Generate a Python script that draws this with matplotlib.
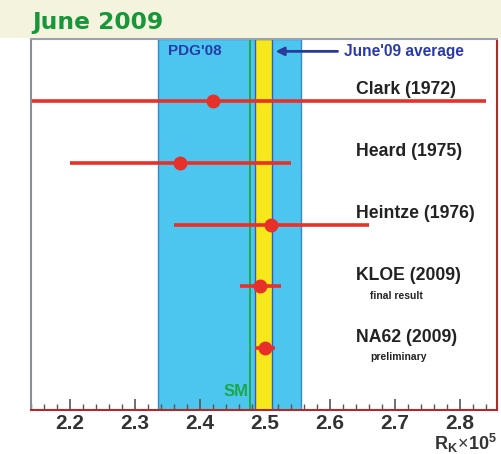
import matplotlib
matplotlib.use("Agg")
import matplotlib.pyplot as plt
from matplotlib.patches import Rectangle
from matplotlib.ticker import MultipleLocator, FixedLocator

plt.rcParams['font.family'] = ['Liberation Sans', 'DejaVu Sans']
plt.rcParams['mathtext.fontset'] = 'custom'
plt.rcParams['mathtext.rm'] = 'Liberation Sans'
plt.rcParams['mathtext.bf'] = 'Liberation Sans:bold'
plt.rcParams['mathtext.it'] = 'Liberation Sans:italic'

# Data
experiments = ["Clark (1972)", "Heard (1975)", "Heintze (1976)", "KLOE (2009)", "NA62 (2009)"]
notes = ["", "", "", "final result", "preliminary"]
values = [2.42, 2.37, 2.51, 2.493, 2.500]
errors = [0.42, 0.17, 0.15, 0.031, 0.016]
pdg_value, pdg_error = 2.445, 0.11
avg_value, avg_error = 2.498, 0.013
sm_value = 2.477
tick_values = [2.2, 2.3, 2.4, 2.5, 2.6, 2.7, 2.8]
tick_labels = ["2.2", "2.3", "2.4", "2.5", "2.6", "2.7", "2.8"]

W, H = 501, 454
fig = plt.figure(figsize=(W / 100, H / 100), dpi=100)
fig.patch.set_facecolor('white')
# beige header band
fig.patches.append(Rectangle((0, 1 - 38 / H), 1, 38 / H, transform=fig.transFigure,
                             facecolor='#f4f4de', edgecolor='none', zorder=0))
fig.text(32 / W, 1 - 22 / H, "June 2009", color='#17963a', fontsize=16.8,
         fontweight='bold', family='DejaVu Sans', va='center', ha='left')

ax = fig.add_axes([31 / W, 44 / H, 466 / W, 371 / H])
ax.set_xlim(2.14, 2.857)
ax.set_ylim(0, 6)

# PDG band
ax.axvspan(pdg_value - pdg_error, pdg_value + pdg_error, facecolor='#4cc6ee',
           edgecolor='#3a86cc', linewidth=1.0, zorder=1)
# average band
ax.axvspan(avg_value - avg_error, avg_value + avg_error, facecolor='#f7e81c',
           edgecolor='#3a5fb0', linewidth=1.0, zorder=2)
# SM line
ax.axvline(sm_value, color='#1aa84a', linewidth=1.3, zorder=3)

ypos = [5, 4, 3, 2, 1]
for v, e, y in zip(values, errors, ypos):
    ax.errorbar(v, y, xerr=e, fmt='o', color='#e8302a', ecolor='#e8302a',
                elinewidth=2.6, markersize=9, capsize=0, zorder=5, clip_on=True)

for name, note, y in zip(experiments, notes, ypos):
    ax.text(2.64, y + 0.18, name, fontsize=12.7, fontweight='bold', color='#222222',
            ha='left', va='center', zorder=6)
    if note:
        ax.text(2.662, y - 0.15, note, fontsize=7.5, fontweight='bold', color='#222222',
                ha='left', va='center', zorder=6)

ax.text(2.351, 5.8, "PDG'08", fontsize=11, fontweight='bold', color='#2a3aa8',
        ha='left', va='center', zorder=6)
ax.text(2.6215, 5.8, "June'09 average", fontsize=11.2, fontweight='bold', color='#2a3aa8',
        ha='left', va='center', zorder=6)
ax.annotate("", xy=(2.512, 5.8), xytext=(2.616, 5.8),
            arrowprops=dict(arrowstyle='-|>', color='#2a3a9a', lw=2, mutation_scale=12),
            zorder=6)
ax.text(2.475, 0.3, "SM", fontsize=12, fontweight='bold', color='#1aa84a',
        ha='right', va='center', zorder=6)

# spines
ax.spines['left'].set_color('#8a8e94')
ax.spines['top'].set_color('#9aa0b0')
ax.spines['bottom'].set_color('#b02a2a')
ax.spines['right'].set_color('#b02a2a')
for s in ax.spines.values():
    s.set_linewidth(1.5)
    s.set_zorder(7)

ax.xaxis.set_major_locator(FixedLocator(tick_values))
ax.set_xticklabels(tick_labels)
ax.xaxis.set_minor_locator(MultipleLocator(0.02))
ax.tick_params(axis='x', which='major', direction='in', length=8, width=1.2,
               color='#555555', labelsize=15, pad=3, labelcolor='#333333')
ax.tick_params(axis='x', which='minor', direction='in', length=4.5, width=1.0,
               color='#555555')
for lbl in ax.get_xticklabels():
    lbl.set_fontweight('bold')
ax.set_yticks([])

fig.text(497 / W, 1 - 450 / H, r'$\mathbf{R_K}\!\times\!\mathbf{10^5}$', fontsize=13,
         color='#333333', ha='right', va='baseline')

fig.savefig('out.png', dpi=100)
